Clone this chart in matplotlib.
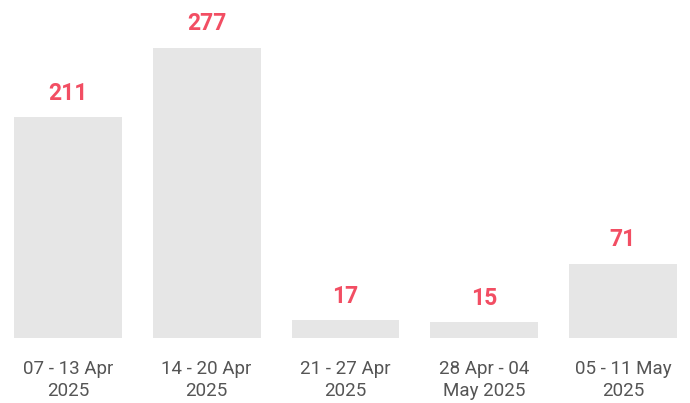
import numpy as np
from matplotlib import pyplot as plt

plt.rcParams.update({"font.family": "Roboto"})

weeks = ["07 - 13 Apr\n2025", "14 - 20 Apr\n2025", "21 - 27 Apr\n2025",
         "28 Apr - 04\nMay 2025", "05 - 11 May\n2025"]
counts = [211, 277, 17, 15, 71]

fig = plt.figure(figsize=[6.9, 4.03], dpi=100)
ax = fig.add_axes([0, 65/403, 1, 338/403])

x = np.arange(len(weeks))
ax.bar(x, counts, width=0.777, color="#e6e6e6")
for xi, c in zip(x, counts):
    ax.annotate(str(c), (xi, c), xytext=(0, 9), textcoords="offset points",
                ha="center", va="bottom", color="#f24e63",
                fontsize=16.5, fontweight="bold")

ax.set_xlim(-0.489, 4.483)
ax.set_ylim(0, 322.8)
ax.set_xticks(x)
ax.set_xticklabels(weeks, fontsize=13.5, color="#555555", linespacing=1.3)
ax.tick_params(axis="x", length=0, pad=16)
ax.set_yticks([])
for s in ax.spines.values():
    s.set_visible(False)

plt.savefig("out.png", dpi=100)
